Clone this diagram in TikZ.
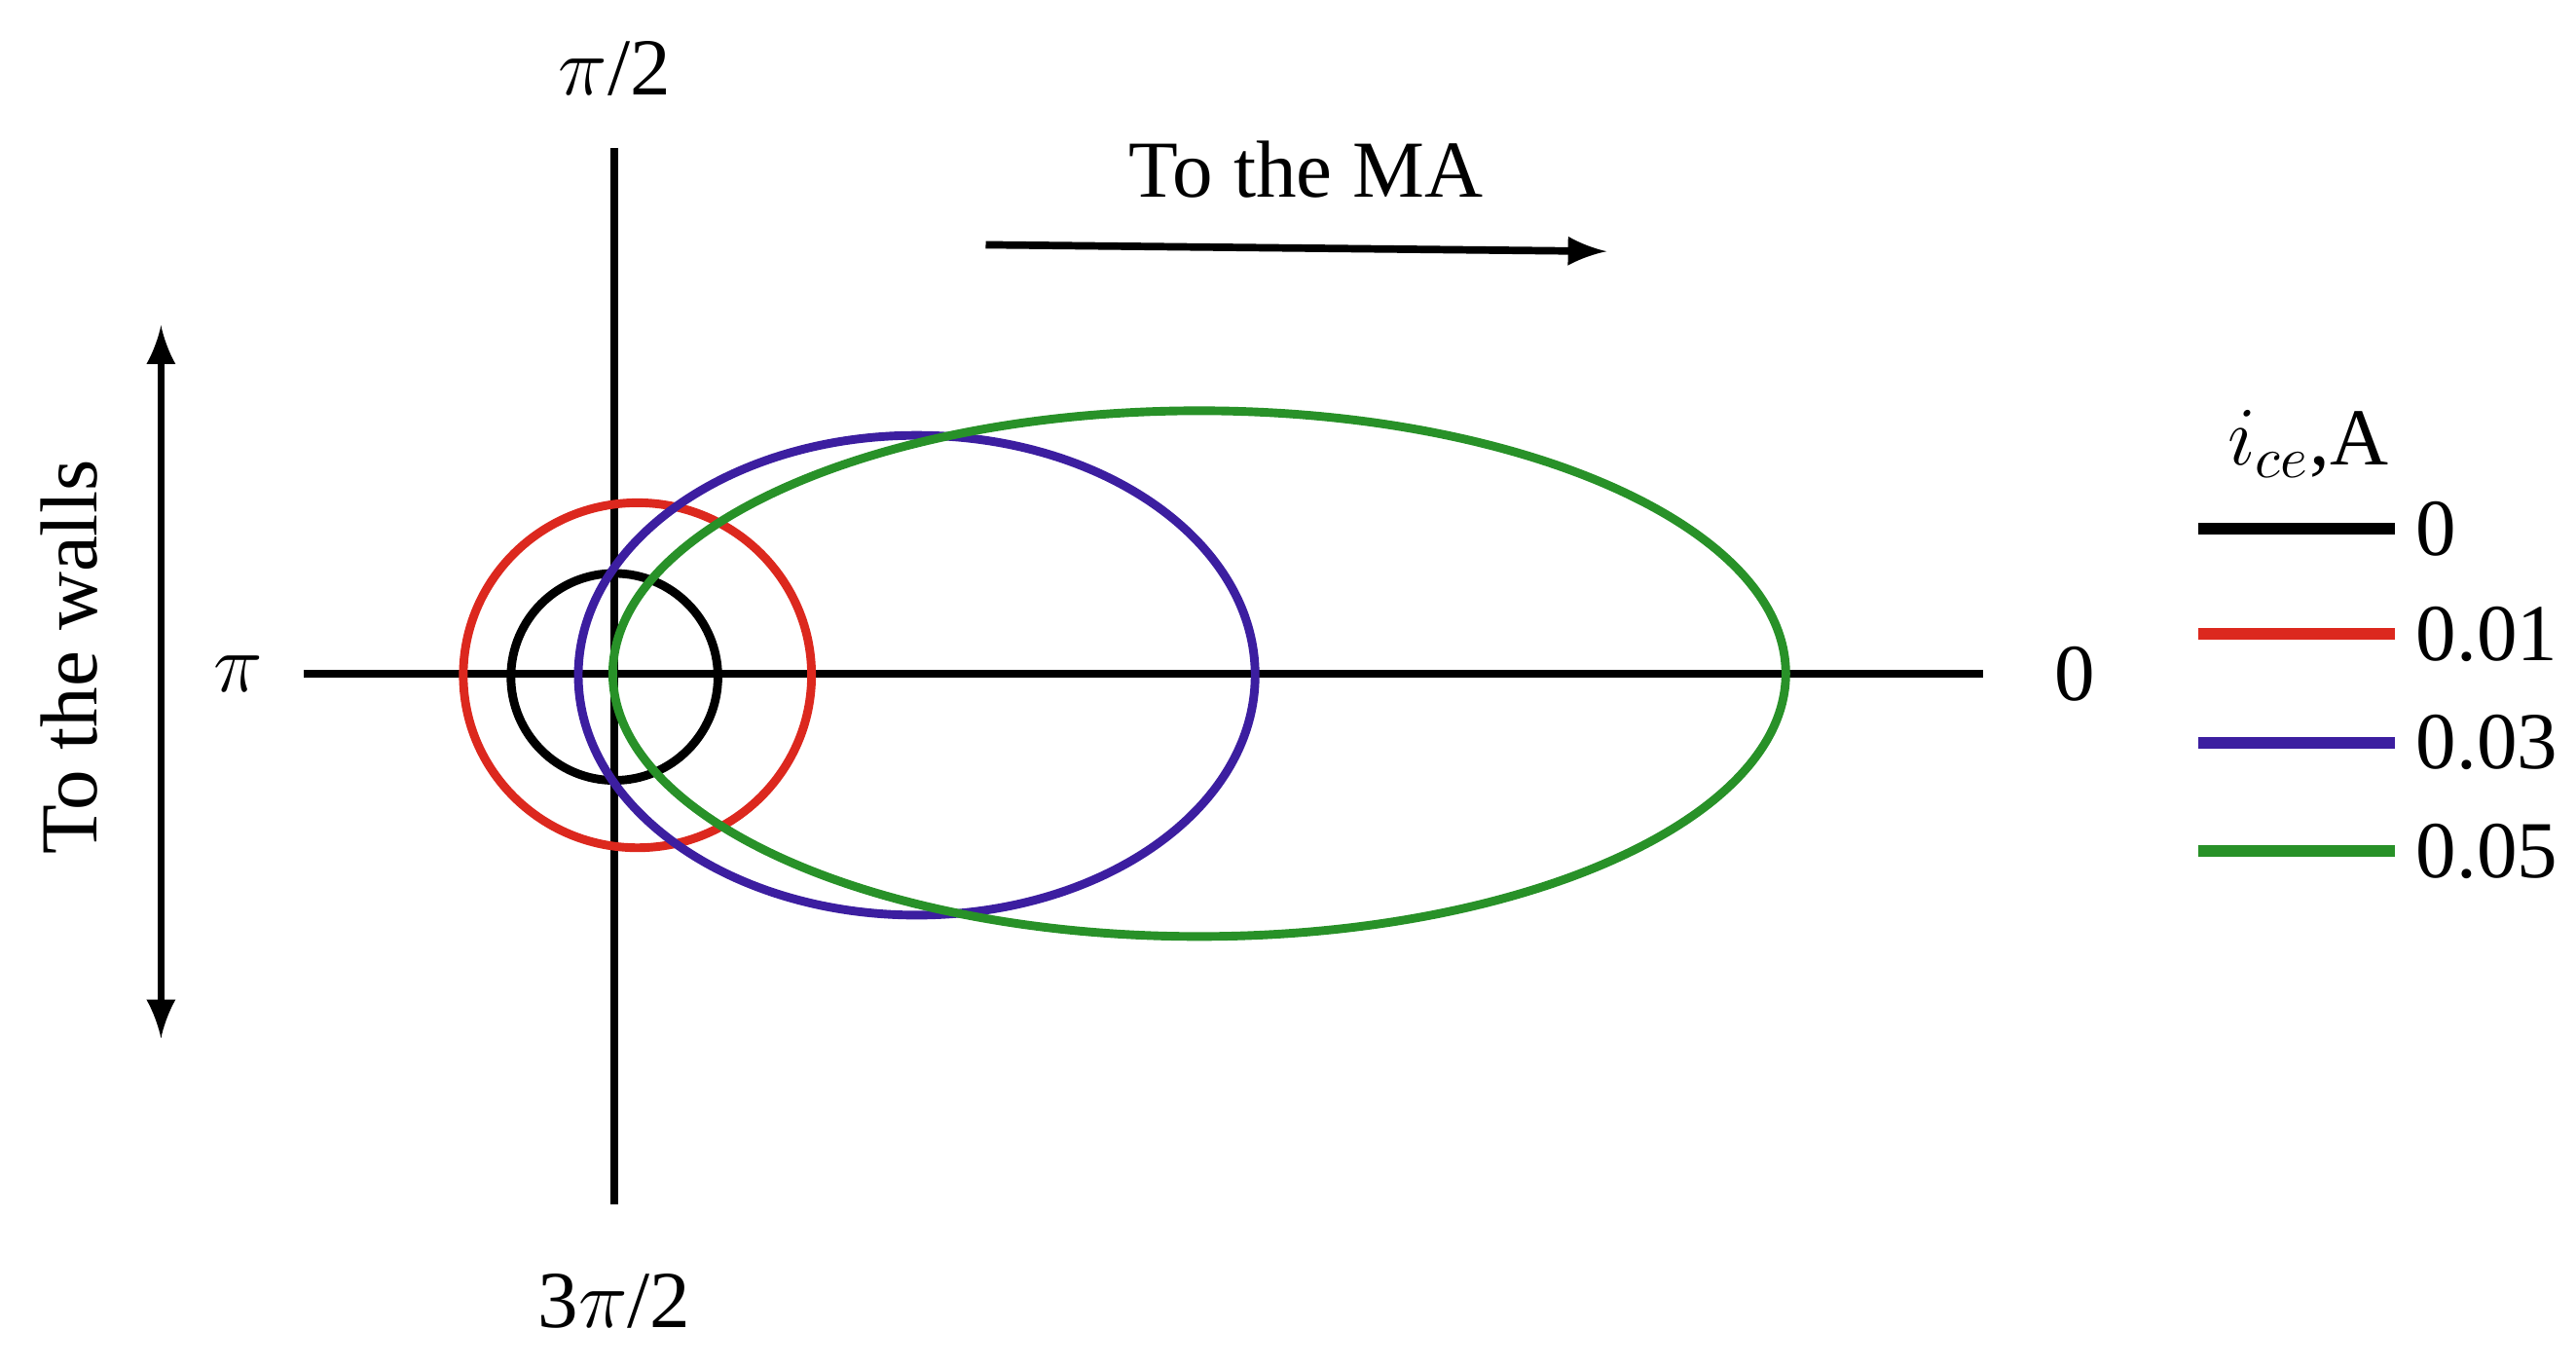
\documentclass[tikz,border=0pt]{standalone}
\usepackage{fontspec}
\setmainfont{Liberation Serif}
\begin{document}
\begin{tikzpicture}[x=0.01cm,y=-0.01cm,
  lab/.style={font=\fontsize{14}{16}\selectfont, inner sep=0pt},
  ax/.style={line width=1.3pt},
  cur/.style={line width=1.5pt}]
\useasboundingbox (0,0) rectangle (1568,831);
\definecolor{cred}{RGB}{220,40,30}
\definecolor{cblue}{RGB}{60,30,160}
\definecolor{cgreen}{RGB}{40,145,40}
\coordinate (vt) at (374,90); \coordinate (vb) at (374,733);
\coordinate (hl) at (185,410); \coordinate (hr) at (1207,410);
\draw[ax] (vt) -- (vb);
\draw[ax] (hl) -- (hr);
\node[lab] (p2) at (374,42) {$\pi$/2};
\node[lab] (p32) at (374,792) {3$\pi$/2};
\node[lab] (p) at (145,410) {$\pi$};
\node[lab] (z) at (1263,410) {0};
\coordinate (ma1) at (600,149); \coordinate (ma2) at (978,153);
\draw[ax,-latex] (ma1) -- (ma2);
\node[lab] (mal) at (795,103) {To the MA};
\coordinate (w1) at (98,198); \coordinate (w2) at (98,632);
\draw[ax,latex-latex] (w1) -- (w2);
\node[lab,rotate=90] (wl) at (42,400) {To the walls};
\draw[cur,black] (374,412) ellipse [x radius=63,y radius=63];
\draw[cur,cred] (388,411) ellipse [x radius=106,y radius=105];
\draw[cur,cblue] (558,411) ellipse [x radius=206,y radius=146];
\draw[cur,cgreen] (730,410) ellipse [x radius=357,y radius=160];
\node[lab] (lh) at (1405,270) {$i_{ce}$,A};
\foreach \y/\c/\t/\n in {322/black/0/a,386/cred/0.01/b,452/cblue/0.03/c,518/cgreen/0.05/d}{
  \coordinate (l\n1) at (1338,\y); \coordinate (l\n2) at (1458,\y);
  \draw[cur,\c,line width=2pt] (l\n1) -- (l\n2);
  \node[lab,anchor=west] (t\n) at (1470,\y) {\t};
}
\end{tikzpicture}
\end{document}
